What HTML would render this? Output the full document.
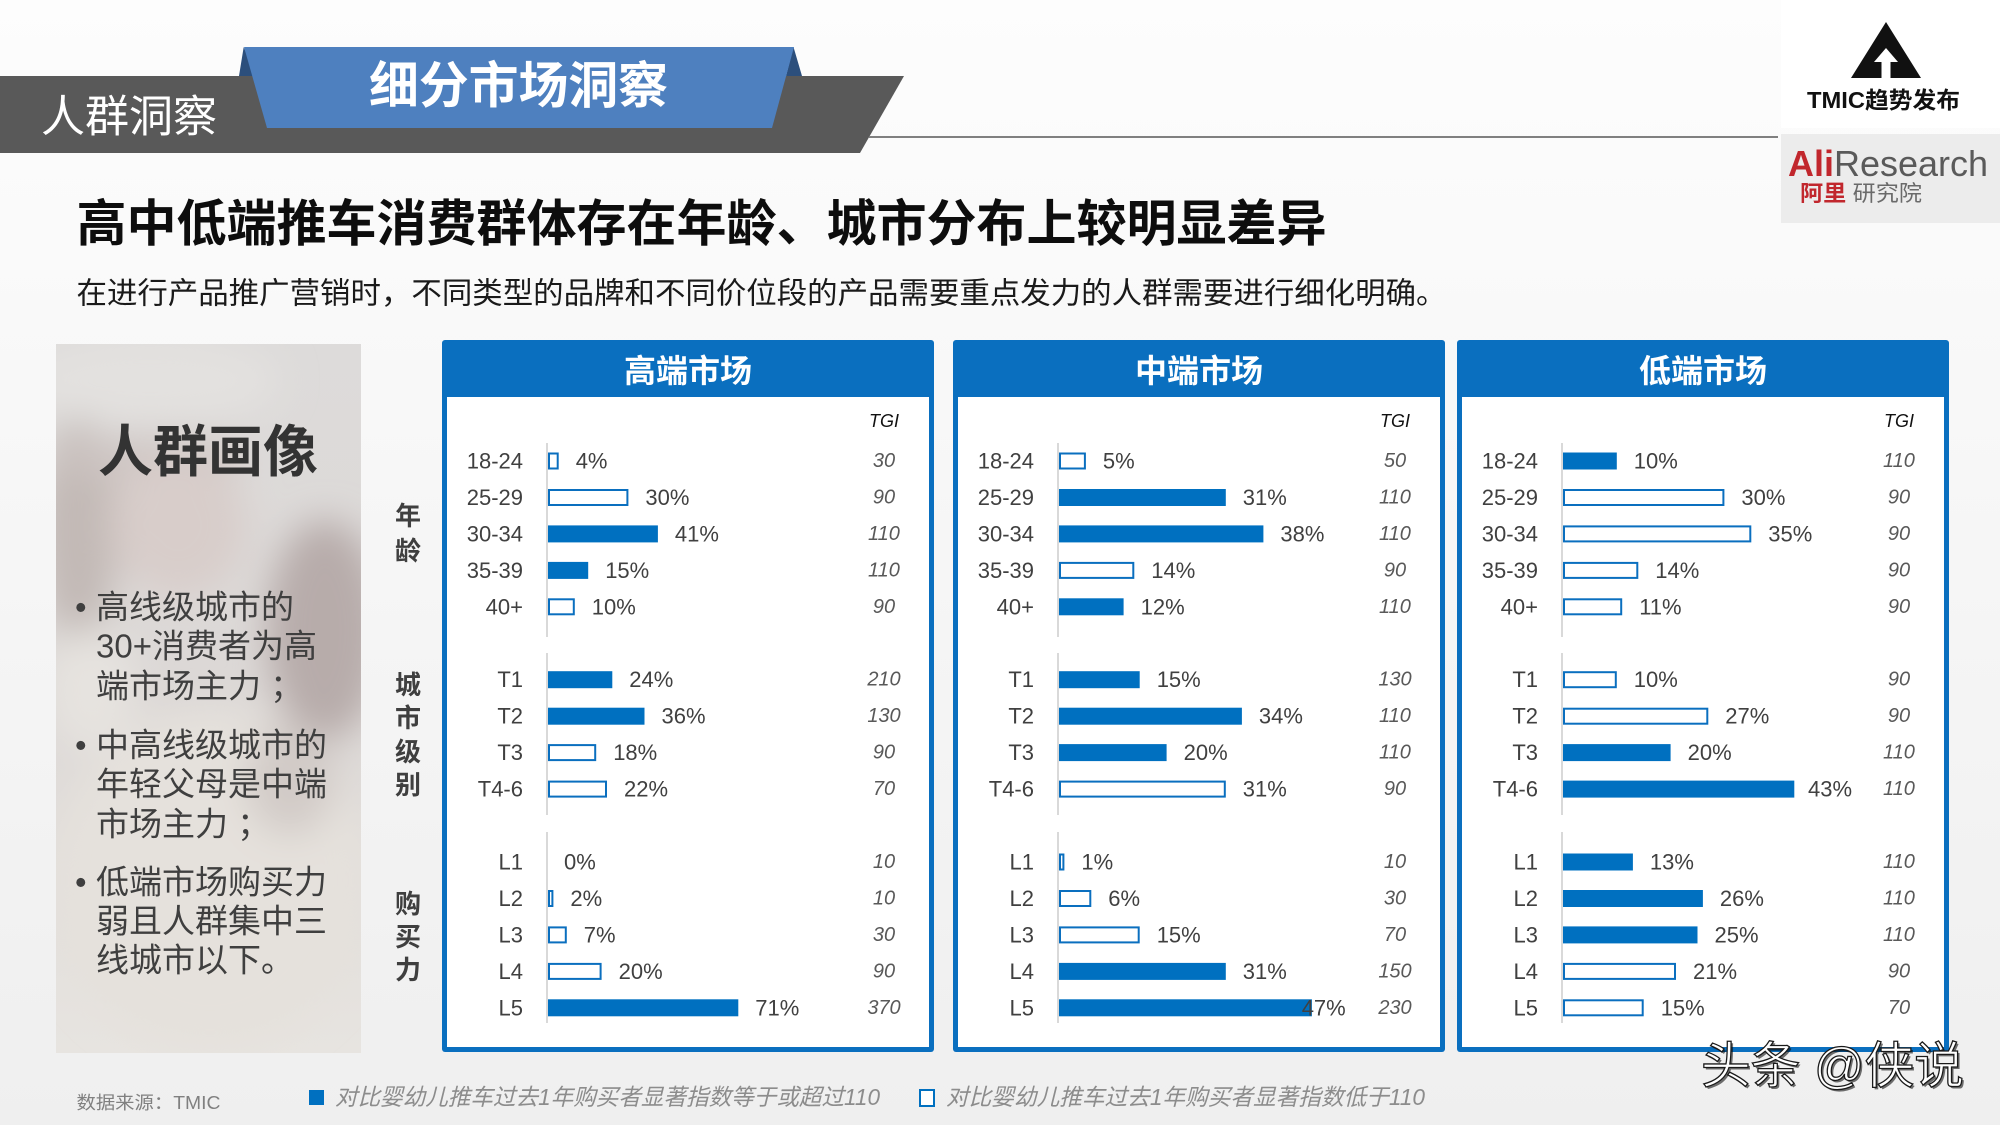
<!DOCTYPE html>
<html><head><meta charset="utf-8"><style>
html,body{margin:0;padding:0;background:#f5f5f5;}
body{width:2000px;height:1125px;overflow:hidden;}
svg{display:block;}
.f{fill:#0070c0;}
.o{fill:#ffffff;stroke:#0a6fbf;stroke-width:2;}
.lb{font-family:"Liberation Sans",sans-serif;font-size:22px;fill:#404040;text-anchor:end;dominant-baseline:central;}
.pc{font-family:"Liberation Sans",sans-serif;font-size:22px;fill:#404040;dominant-baseline:central;}
.tg{font-family:"Liberation Sans",sans-serif;font-size:20px;font-style:italic;fill:#595959;text-anchor:middle;dominant-baseline:central;}
.tgh{font-family:"Liberation Sans",sans-serif;font-size:18px;font-style:italic;fill:#111;text-anchor:middle;dominant-baseline:central;}
.hd{font-family:"Liberation Sans","Noto Sans CJK SC",sans-serif;font-size:32px;font-weight:700;fill:#fff;text-anchor:middle;dominant-baseline:central;}
.ax{stroke:#d9d9d9;stroke-width:2;}
.cj{font-family:"Liberation Sans","Noto Sans CJK SC",sans-serif;dominant-baseline:central;}
.bl{font-family:"Liberation Sans","Noto Sans CJK SC",sans-serif;font-size:33px;fill:#3f3f3f;dominant-baseline:central;}
.sd{font-family:"Liberation Sans","Noto Sans CJK SC",sans-serif;font-size:26px;font-weight:700;fill:#3f3f3f;text-anchor:middle;dominant-baseline:central;}
</style></head><body>
<svg width="2000" height="1125" viewBox="0 0 2000 1125" xmlns="http://www.w3.org/2000/svg">
<defs>
<linearGradient id="bg" x1="0" y1="0" x2="0" y2="1"><stop offset="0" stop-color="#fdfdfd"/><stop offset="0.35" stop-color="#f8f8f8"/><stop offset="1" stop-color="#efefef"/></linearGradient>
<linearGradient id="phg" x1="0" y1="0" x2="0" y2="1"><stop offset="0" stop-color="#dddbda"/><stop offset="0.5" stop-color="#dcd8d6"/><stop offset="1" stop-color="#e7e4e0"/></linearGradient>
<clipPath id="ph"><rect x="56" y="344" width="305" height="709"/></clipPath>
<filter id="blr" x="-50%" y="-50%" width="200%" height="200%"><feGaussianBlur stdDeviation="18"/></filter>
</defs>

<rect x="0" y="0" width="2000" height="1125" fill="url(#bg)"/>

<!-- header band -->
<polygon points="0,76 904,76 860,153 0,153" fill="#595959"/>
<line x1="869" y1="137" x2="1778" y2="137" stroke="#808080" stroke-width="2"/>
<polygon points="243.7,47 239,76 255.5,76" fill="#2c4f7c"/>
<polygon points="793.5,47 786,76 802,76" fill="#2c4f7c"/>
<polygon points="244,47 794,47 772,128 267,128" fill="#4e80bf"/>
<text x="41" y="117" class="cj" font-size="44" fill="#ffffff" textLength="176" lengthAdjust="spacingAndGlyphs">人群洞察</text>
<text x="369" y="86" class="cj" font-size="50" font-weight="700" fill="#ffffff" textLength="299" lengthAdjust="spacingAndGlyphs">细分市场洞察</text>

<!-- logos -->
<rect x="1781" y="0" width="219" height="128" fill="#ffffff"/>
<polygon points="1886,22 1921,78 1851,78" fill="#111"/>
<polygon points="1886,48 1898,62 1890.5,62 1890.5,79 1881.5,79 1881.5,62 1874,62" fill="#ffffff"/>
<text x="1807" y="100" class="cj" font-size="23" font-weight="700" fill="#111" textLength="153" lengthAdjust="spacingAndGlyphs">TMIC趋势发布</text>
<rect x="1781" y="134" width="219" height="89" fill="#ececec"/>
<text x="1788" y="163" class="cj" font-size="36" textLength="200" lengthAdjust="spacingAndGlyphs"><tspan fill="#c1272d" font-weight="700">Ali</tspan><tspan fill="#5a5a5a">Research</tspan></text>
<text x="1800" y="193" class="cj" font-size="22" textLength="122" lengthAdjust="spacingAndGlyphs"><tspan fill="#c1272d" font-weight="700">阿里</tspan><tspan fill="#6a6a6a"> 研究院</tspan></text>

<!-- title -->
<text x="76.5" y="224" class="cj" font-size="50" font-weight="700" fill="#0d0d0d" textLength="1250" lengthAdjust="spacingAndGlyphs">高中低端推车消费群体存在年龄、城市分布上较明显差异</text>
<text x="76.5" y="294" class="cj" font-size="30" fill="#1a1a1a" textLength="1370" lengthAdjust="spacingAndGlyphs">在进行产品推广营销时，不同类型的品牌和不同价位段的产品需要重点发力的人群需要进行细化明确。</text>

<!-- photo panel -->
<g clip-path="url(#ph)">
<rect x="56" y="344" width="305" height="709" fill="url(#phg)"/>
<g filter="url(#blr)">
<ellipse cx="150" cy="380" rx="130" ry="45" fill="#e3e1df"/>
<ellipse cx="78" cy="530" rx="40" ry="110" fill="#c2b9b6"/>
<ellipse cx="150" cy="458" rx="95" ry="22" fill="#cdc5c2"/>
<ellipse cx="178" cy="525" rx="68" ry="72" fill="#d8cdca"/>
<ellipse cx="325" cy="630" rx="58" ry="110" fill="#b7acaa"/>
<ellipse cx="90" cy="690" rx="45" ry="60" fill="#e6e3df"/>
<ellipse cx="210" cy="880" rx="160" ry="170" fill="#e5e1dc"/>
<ellipse cx="290" cy="780" rx="45" ry="55" fill="#d2cbc7"/>
</g>
</g>
<text x="98" y="452" class="cj" font-size="56" font-weight="700" fill="#333333" textLength="220" lengthAdjust="spacingAndGlyphs">人群画像</text>
<text x="75" y="607" class="bl">•</text>
<text x="96" y="607" class="bl">高线级城市的</text>
<text x="96" y="646" class="bl">30+消费者为高</text>
<text x="96" y="686" class="bl">端市场主力 ；</text>
<text x="75" y="745" class="bl">•</text>
<text x="96" y="745" class="bl">中高线级城市的</text>
<text x="96" y="784" class="bl">年轻父母是中端</text>
<text x="96" y="824" class="bl">市场主力 ；</text>
<text x="75" y="882" class="bl">•</text>
<text x="96" y="882" class="bl">低端市场购买力</text>
<text x="96" y="921" class="bl">弱且人群集中三</text>
<text x="96" y="960" class="bl">线城市以下。</text>

<!-- side labels -->
<text x="408" y="516" class="sd">年</text>
<text x="408" y="551" class="sd">龄</text>
<text x="408" y="685" class="sd">城</text>
<text x="408" y="718" class="sd">市</text>
<text x="408" y="752" class="sd">级</text>
<text x="408" y="785" class="sd">别</text>
<text x="408" y="904" class="sd">购</text>
<text x="408" y="937" class="sd">买</text>
<text x="408" y="970" class="sd">力</text>

<!-- ============ PANEL 1: 高端市场 ============ -->
<rect x="442" y="340" width="492" height="712" rx="3" fill="#0a6fbf"/>
<rect x="447" y="397" width="482" height="650" fill="#ffffff"/>
<text x="688" y="371" class="hd">高端市场</text>
<text x="884" y="421" class="tgh">TGI</text>
<line x1="547" y1="443" x2="547" y2="637" class="ax"/>
<line x1="547" y1="653" x2="547" y2="815" class="ax"/>
<line x1="547" y1="832" x2="547" y2="1023" class="ax"/>
<text x="523" y="461" class="lb">18-24</text>
<text x="523" y="497.5" class="lb">25-29</text>
<text x="523" y="533.9" class="lb">30-34</text>
<text x="523" y="570.4" class="lb">35-39</text>
<text x="523" y="606.8" class="lb">40+</text>
<text x="523" y="679.7" class="lb">T1</text>
<text x="523" y="716.2" class="lb">T2</text>
<text x="523" y="752.6" class="lb">T3</text>
<text x="523" y="789.1" class="lb">T4-6</text>
<text x="523" y="862" class="lb">L1</text>
<text x="523" y="898.5" class="lb">L2</text>
<text x="523" y="934.9" class="lb">L3</text>
<text x="523" y="971.4" class="lb">L4</text>
<text x="523" y="1007.8" class="lb">L5</text>
<rect x="549" y="453.5" width="8.7" height="15" class="o"/>
<rect x="549" y="490" width="78.4" height="15" class="o"/>
<rect x="548" y="525.4" width="109.9" height="17" class="f"/>
<rect x="548" y="561.9" width="40.2" height="17" class="f"/>
<rect x="549" y="599.3" width="24.8" height="15" class="o"/>
<rect x="548" y="671.2" width="64.3" height="17" class="f"/>
<rect x="548" y="707.7" width="96.5" height="17" class="f"/>
<rect x="549" y="745.1" width="46.2" height="15" class="o"/>
<rect x="549" y="781.6" width="57" height="15" class="o"/>
<rect x="549" y="891" width="3.4" height="15" class="o"/>
<rect x="549" y="927.4" width="16.8" height="15" class="o"/>
<rect x="549" y="963.9" width="51.6" height="15" class="o"/>
<rect x="548" y="999.3" width="190.3" height="17" class="f"/>
<text x="575.7" y="461" class="pc">4%</text>
<text x="645.4" y="497.5" class="pc">30%</text>
<text x="674.9" y="533.9" class="pc">41%</text>
<text x="605.2" y="570.4" class="pc">15%</text>
<text x="591.8" y="606.8" class="pc">10%</text>
<text x="629.3" y="679.7" class="pc">24%</text>
<text x="661.5" y="716.2" class="pc">36%</text>
<text x="613.2" y="752.6" class="pc">18%</text>
<text x="624" y="789.1" class="pc">22%</text>
<text x="564" y="862" class="pc">0%</text>
<text x="570.4" y="898.5" class="pc">2%</text>
<text x="583.8" y="934.9" class="pc">7%</text>
<text x="618.6" y="971.4" class="pc">20%</text>
<text x="755.3" y="1007.8" class="pc">71%</text>
<text x="884" y="461" class="tg">30</text>
<text x="884" y="497.5" class="tg">90</text>
<text x="884" y="533.9" class="tg">110</text>
<text x="884" y="570.4" class="tg">110</text>
<text x="884" y="606.8" class="tg">90</text>
<text x="884" y="679.7" class="tg">210</text>
<text x="884" y="716.2" class="tg">130</text>
<text x="884" y="752.6" class="tg">90</text>
<text x="884" y="789.1" class="tg">70</text>
<text x="884" y="862" class="tg">10</text>
<text x="884" y="898.5" class="tg">10</text>
<text x="884" y="934.9" class="tg">30</text>
<text x="884" y="971.4" class="tg">90</text>
<text x="884" y="1007.8" class="tg">370</text>

<!-- ============ PANEL 2: 中端市场 ============ -->
<rect x="953" y="340" width="492" height="712" rx="3" fill="#0a6fbf"/>
<rect x="958" y="397" width="482" height="650" fill="#ffffff"/>
<text x="1199" y="371" class="hd">中端市场</text>
<text x="1395" y="421" class="tgh">TGI</text>
<line x1="1058" y1="443" x2="1058" y2="637" class="ax"/>
<line x1="1058" y1="653" x2="1058" y2="815" class="ax"/>
<line x1="1058" y1="832" x2="1058" y2="1023" class="ax"/>
<text x="1034" y="461" class="lb">18-24</text>
<text x="1034" y="497.5" class="lb">25-29</text>
<text x="1034" y="533.9" class="lb">30-34</text>
<text x="1034" y="570.4" class="lb">35-39</text>
<text x="1034" y="606.8" class="lb">40+</text>
<text x="1034" y="679.7" class="lb">T1</text>
<text x="1034" y="716.2" class="lb">T2</text>
<text x="1034" y="752.6" class="lb">T3</text>
<text x="1034" y="789.1" class="lb">T4-6</text>
<text x="1034" y="862" class="lb">L1</text>
<text x="1034" y="898.5" class="lb">L2</text>
<text x="1034" y="934.9" class="lb">L3</text>
<text x="1034" y="971.4" class="lb">L4</text>
<text x="1034" y="1007.8" class="lb">L5</text>
<rect x="1060" y="453.5" width="24.9" height="15" class="o"/>
<rect x="1059" y="489" width="166.8" height="17" class="f"/>
<rect x="1059" y="525.4" width="204.4" height="17" class="f"/>
<rect x="1060" y="562.9" width="73.3" height="15" class="o"/>
<rect x="1059" y="598.3" width="64.6" height="17" class="f"/>
<rect x="1059" y="671.2" width="80.7" height="17" class="f"/>
<rect x="1059" y="707.7" width="182.9" height="17" class="f"/>
<rect x="1059" y="744.1" width="107.6" height="17" class="f"/>
<rect x="1060" y="781.6" width="164.8" height="15" class="o"/>
<rect x="1060" y="854.5" width="3.4" height="15" class="o"/>
<rect x="1060" y="891" width="30.3" height="15" class="o"/>
<rect x="1060" y="927.4" width="78.7" height="15" class="o"/>
<rect x="1059" y="962.9" width="166.8" height="17" class="f"/>
<rect x="1059" y="999.3" width="252.9" height="17" class="f"/>
<text x="1102.9" y="461" class="pc">5%</text>
<text x="1242.8" y="497.5" class="pc">31%</text>
<text x="1280.4" y="533.9" class="pc">38%</text>
<text x="1151.3" y="570.4" class="pc">14%</text>
<text x="1140.6" y="606.8" class="pc">12%</text>
<text x="1156.7" y="679.7" class="pc">15%</text>
<text x="1258.9" y="716.2" class="pc">34%</text>
<text x="1183.6" y="752.6" class="pc">20%</text>
<text x="1242.8" y="789.1" class="pc">31%</text>
<text x="1081.4" y="862" class="pc">1%</text>
<text x="1108.3" y="898.5" class="pc">6%</text>
<text x="1156.7" y="934.9" class="pc">15%</text>
<text x="1242.8" y="971.4" class="pc">31%</text>
<text x="1301.7" y="1007.8" class="pc">47%</text>
<text x="1395" y="461" class="tg">50</text>
<text x="1395" y="497.5" class="tg">110</text>
<text x="1395" y="533.9" class="tg">110</text>
<text x="1395" y="570.4" class="tg">90</text>
<text x="1395" y="606.8" class="tg">110</text>
<text x="1395" y="679.7" class="tg">130</text>
<text x="1395" y="716.2" class="tg">110</text>
<text x="1395" y="752.6" class="tg">110</text>
<text x="1395" y="789.1" class="tg">90</text>
<text x="1395" y="862" class="tg">10</text>
<text x="1395" y="898.5" class="tg">30</text>
<text x="1395" y="934.9" class="tg">70</text>
<text x="1395" y="971.4" class="tg">150</text>
<text x="1395" y="1007.8" class="tg">230</text>

<!-- ============ PANEL 3: 低端市场 ============ -->
<rect x="1457" y="340" width="492" height="712" rx="3" fill="#0a6fbf"/>
<rect x="1462" y="397" width="482" height="650" fill="#ffffff"/>
<text x="1703" y="371" class="hd">低端市场</text>
<text x="1899" y="421" class="tgh">TGI</text>
<line x1="1562" y1="443" x2="1562" y2="637" class="ax"/>
<line x1="1562" y1="653" x2="1562" y2="815" class="ax"/>
<line x1="1562" y1="832" x2="1562" y2="1023" class="ax"/>
<text x="1538" y="461" class="lb">18-24</text>
<text x="1538" y="497.5" class="lb">25-29</text>
<text x="1538" y="533.9" class="lb">30-34</text>
<text x="1538" y="570.4" class="lb">35-39</text>
<text x="1538" y="606.8" class="lb">40+</text>
<text x="1538" y="679.7" class="lb">T1</text>
<text x="1538" y="716.2" class="lb">T2</text>
<text x="1538" y="752.6" class="lb">T3</text>
<text x="1538" y="789.1" class="lb">T4-6</text>
<text x="1538" y="862" class="lb">L1</text>
<text x="1538" y="898.5" class="lb">L2</text>
<text x="1538" y="934.9" class="lb">L3</text>
<text x="1538" y="971.4" class="lb">L4</text>
<text x="1538" y="1007.8" class="lb">L5</text>
<rect x="1563" y="452.5" width="53.8" height="17" class="f"/>
<rect x="1564" y="490" width="159.4" height="15" class="o"/>
<rect x="1564" y="526.4" width="186.3" height="15" class="o"/>
<rect x="1564" y="562.9" width="73.3" height="15" class="o"/>
<rect x="1564" y="599.3" width="57.2" height="15" class="o"/>
<rect x="1564" y="672.2" width="51.8" height="15" class="o"/>
<rect x="1564" y="708.7" width="143.3" height="15" class="o"/>
<rect x="1563" y="744.1" width="107.6" height="17" class="f"/>
<rect x="1563" y="780.6" width="231.3" height="17" class="f"/>
<rect x="1563" y="853.5" width="69.9" height="17" class="f"/>
<rect x="1563" y="890" width="139.9" height="17" class="f"/>
<rect x="1563" y="926.4" width="134.5" height="17" class="f"/>
<rect x="1564" y="963.9" width="111" height="15" class="o"/>
<rect x="1564" y="1000.3" width="78.7" height="15" class="o"/>
<text x="1633.8" y="461" class="pc">10%</text>
<text x="1741.4" y="497.5" class="pc">30%</text>
<text x="1768.3" y="533.9" class="pc">35%</text>
<text x="1655.3" y="570.4" class="pc">14%</text>
<text x="1639.2" y="606.8" class="pc">11%</text>
<text x="1633.8" y="679.7" class="pc">10%</text>
<text x="1725.3" y="716.2" class="pc">27%</text>
<text x="1687.6" y="752.6" class="pc">20%</text>
<text x="1808" y="789.1" class="pc">43%</text>
<text x="1649.9" y="862" class="pc">13%</text>
<text x="1719.9" y="898.5" class="pc">26%</text>
<text x="1714.5" y="934.9" class="pc">25%</text>
<text x="1693" y="971.4" class="pc">21%</text>
<text x="1660.7" y="1007.8" class="pc">15%</text>
<text x="1899" y="461" class="tg">110</text>
<text x="1899" y="497.5" class="tg">90</text>
<text x="1899" y="533.9" class="tg">90</text>
<text x="1899" y="570.4" class="tg">90</text>
<text x="1899" y="606.8" class="tg">90</text>
<text x="1899" y="679.7" class="tg">90</text>
<text x="1899" y="716.2" class="tg">90</text>
<text x="1899" y="752.6" class="tg">110</text>
<text x="1899" y="789.1" class="tg">110</text>
<text x="1899" y="862" class="tg">110</text>
<text x="1899" y="898.5" class="tg">110</text>
<text x="1899" y="934.9" class="tg">110</text>
<text x="1899" y="971.4" class="tg">90</text>
<text x="1899" y="1007.8" class="tg">70</text>

<!-- footer -->
<text x="76.5" y="1103" class="cj" font-size="18" fill="#808080" textLength="144" lengthAdjust="spacingAndGlyphs">数据来源：TMIC</text>
<rect x="309" y="1090" width="15" height="15" fill="#0070c0"/>
<text x="335" y="1097" class="cj" font-size="23" font-style="italic" fill="#8c8c8c" textLength="545" lengthAdjust="spacingAndGlyphs">对比婴幼儿推车过去1年购买者显著指数等于或超过110</text>
<rect x="920" y="1090" width="14" height="16" fill="#ffffff" stroke="#0070c0" stroke-width="2"/>
<text x="946" y="1097" class="cj" font-size="23" font-style="italic" fill="#8c8c8c" textLength="479" lengthAdjust="spacingAndGlyphs">对比婴幼儿推车过去1年购买者显著指数低于110</text>

<!-- watermark -->
<text x="1703" y="1068" class="cj" font-size="50" fill="#000000" fill-opacity="0.55" textLength="263" lengthAdjust="spacingAndGlyphs">头条 @侠说</text>
<text x="1701" y="1066" class="cj" font-size="50" fill="#ffffff" stroke="#1a1a1a" stroke-width="1.3" textLength="263" lengthAdjust="spacingAndGlyphs">头条 @侠说</text>
</svg>
</body></html>
